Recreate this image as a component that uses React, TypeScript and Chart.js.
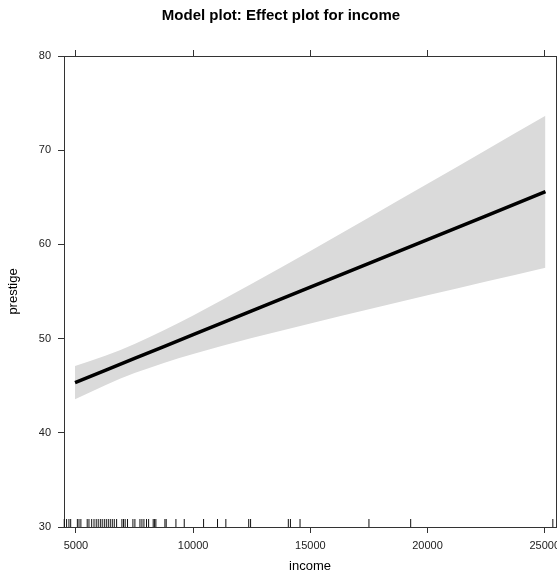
import { useEffect, useRef } from 'react';
import { Chart, registerables } from 'chart.js';

Chart.register(...registerables);

// Fitted effect of income on prestige, with its confidence band
const incomeGrid = [4960, 6250, 7500, 8750, 10000, 12500, 15000, 17500, 20000, 22500, 25030];
const fitted = [45.32, 46.62, 47.89, 49.15, 50.41, 52.94, 55.46, 57.99, 60.51, 63.04, 65.59];
const lowerCI = [43.56, 45.06, 46.34, 47.42, 48.37, 50.06, 51.61, 53.12, 54.59, 56.06, 57.53];
const upperCI = [47.08, 48.18, 49.44, 50.88, 52.45, 55.82, 59.31, 62.86, 66.43, 70.02, 73.65];

// Observed incomes shown as a rug along the bottom axis
const rugIncome = [
  4500, 4600, 4700, 4775, 5060, 5130, 5210, 5480, 5555, 5670, 5770, 5865, 5950, 6040,
  6120, 6210, 6295, 6380, 6465, 6550, 6635, 6735, 6960, 7030, 7100, 7200, 7430, 7515,
  7730, 7815, 7900, 8010, 8100, 8295, 8355, 8410, 8795, 8850, 9265, 9620, 10445, 11040,
  11395, 12370, 12450, 14060, 14150, 14560, 17500, 19280, 25345,
];

const xTicks = [5000, 10000, 15000, 20000, 25000];
const yTicks = [30, 40, 50, 60, 70, 80];
const xRange = [4490, 25480];
const yRange = [30, 80];

const FONT = "'Liberation Sans', Arial, Helvetica, sans-serif";
const AXIS = '#333';
const TEXT = '#222';

const toPoints = (ys: number[]) => incomeGrid.map((x, i) => ({ x, y: ys[i] }));

const rugPlugin = {
  id: 'rug',
  afterDatasetsDraw(chart: any) {
    const { ctx, chartArea, scales } = chart;
    const xs = scales.x;
    ctx.save();
    ctx.strokeStyle = '#111';
    ctx.lineWidth = 1;
    ctx.beginPath();
    for (const v of rugIncome) {
      const px = xs.getPixelForValue(v);
      ctx.moveTo(px, chartArea.bottom);
      ctx.lineTo(px, chartArea.bottom - 8);
    }
    ctx.stroke();
    ctx.restore();
  },
};

const fixedTicks = (values: number[]) => (s: any) => {
  s.ticks = values.map((value) => ({ value }));
};

export default function App() {
  const canvasRef = useRef<HTMLCanvasElement | null>(null);

  useEffect(() => {
    if (!canvasRef.current) return;
    Chart.defaults.font.family = FONT;

    const grid = {
      drawOnChartArea: false,
      drawTicks: true,
      tickLength: 6,
      tickColor: AXIS,
      tickWidth: 1,
    };
    const border = { display: true, color: AXIS, width: 1 };

    const chart = new Chart(canvasRef.current, {
      type: 'line',
      data: {
        datasets: [
          {
            label: 'lower',
            data: toPoints(lowerCI),
            borderColor: 'transparent',
            borderWidth: 0,
            pointRadius: 0,
            cubicInterpolationMode: 'monotone',
            fill: false,
            order: 2,
          },
          {
            label: 'upper',
            data: toPoints(upperCI),
            borderColor: 'transparent',
            borderWidth: 0,
            pointRadius: 0,
            cubicInterpolationMode: 'monotone',
            backgroundColor: 'rgb(218,218,218)',
            fill: '-1',
            order: 1,
          },
          {
            label: 'prestige',
            data: toPoints(fitted),
            borderColor: '#000',
            borderWidth: 3.5,
            pointRadius: 0,
            fill: false,
            order: 0,
          },
        ],
      },
      options: {
        responsive: false,
        animation: false,
        events: [],
        layout: { padding: { left: 0, right: 0, top: 0, bottom: 0 } },
        plugins: {
          legend: { display: false },
          tooltip: { enabled: false },
          title: {
            display: true,
            text: 'Model plot: Effect plot for income',
            color: '#000',
            font: { size: 15, weight: 'bold', family: FONT },
            padding: { top: 6.5, bottom: 25.5 },
          },
        },
        scales: {
          x: {
            type: 'linear',
            position: 'bottom',
            min: xRange[0],
            max: xRange[1],
            afterBuildTicks: fixedTicks(xTicks),
            afterFit: (s: any) => {
              s.height = 47;
              s.paddingLeft = 0;
              s.paddingRight = 0;
            },
            ticks: {
              color: TEXT,
              font: { size: 11, family: FONT },
              padding: 6,
              maxRotation: 0,
              autoSkip: false,
              callback: (v: any) => String(v),
            },
            grid,
            border,
            title: {
              display: true,
              text: 'income',
              color: '#000',
              font: { size: 13, family: FONT },
              padding: { top: 0, bottom: 0 },
            },
          },
          x2: {
            type: 'linear',
            position: 'top',
            min: xRange[0],
            max: xRange[1],
            afterBuildTicks: fixedTicks(xTicks),
            afterFit: (s: any) => {
              s.height = 6;
              s.paddingLeft = 0;
              s.paddingRight = 0;
            },
            ticks: { display: false },
            grid,
            border,
          },
          y: {
            type: 'linear',
            position: 'left',
            min: yRange[0],
            max: yRange[1],
            afterBuildTicks: fixedTicks(yTicks),
            afterFit: (s: any) => {
              s.width = 64;
              s.paddingTop = 0;
              s.paddingBottom = 0;
            },
            ticks: {
              color: TEXT,
              font: { size: 11, family: FONT },
              padding: 7,
            },
            grid,
            border,
            title: {
              display: true,
              text: 'prestige',
              color: '#000',
              font: { size: 13, family: FONT },
              padding: { top: 6, bottom: 0 },
            },
          },
          y2: {
            type: 'linear',
            position: 'right',
            min: yRange[0],
            max: yRange[1],
            afterBuildTicks: fixedTicks(yTicks),
            afterFit: (s: any) => {
              s.width = 6;
              s.paddingTop = 0;
              s.paddingBottom = 0;
            },
            ticks: { display: false },
            grid,
            border,
          },
        },
      },
      plugins: [rugPlugin],
    } as any);

    return () => chart.destroy();
  }, []);

  return (
    <div
      style={{
        position: 'fixed',
        left: 0,
        top: 0,
        width: 557,
        height: 574,
        overflow: 'hidden',
        background: '#fff',
      }}
    >
      <canvas ref={canvasRef} width={562} height={574} style={{ display: 'block' }} />
    </div>
  );
}
